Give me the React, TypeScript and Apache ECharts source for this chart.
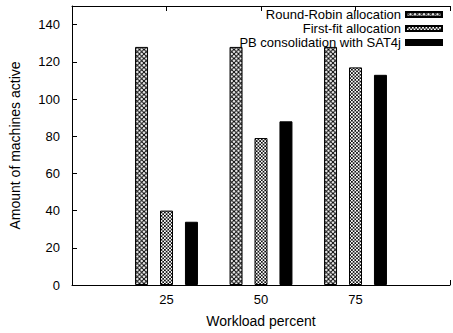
import React, { useEffect, useRef } from "react";
import * as echarts from "echarts";

const workloads = [25, 50, 75];
const xRange = [0, 100];
const roundRobin = [128, 128, 128];
const firstFit = [40, 79, 117];
const pbSat4j = [34, 88, 113];
const seriesNames = ["Round-Robin allocation", "First-fit allocation", "PB consolidation with SAT4j"];
const yTicksMax = 150;

const FONT = "'Liberation Sans', Arial, Helvetica, sans-serif";

function svgUrl(svg: string) {
  return "data:image/svg+xml;charset=utf-8," + encodeURIComponent(svg);
}

const rrSize = 4.5;
const rrPattern = {
  image: svgUrl(
    `<svg xmlns='http://www.w3.org/2000/svg' width='${rrSize}' height='${rrSize}' viewBox='0 0 ${rrSize} ${rrSize}'><rect width='${rrSize}' height='${rrSize}' fill='white'/><path d='M0 0L${rrSize} ${rrSize}M${rrSize} 0L0 ${rrSize}' stroke='black' stroke-width='1'/></svg>`
  ),
  imageWidth: rrSize,
  imageHeight: rrSize,
  repeat: "repeat",
};

const ffSize = 3.4;
const ffPattern = {
  image: svgUrl(
    `<svg xmlns='http://www.w3.org/2000/svg' width='${ffSize}' height='${ffSize}' viewBox='0 0 ${ffSize} ${ffSize}'><rect width='${ffSize}' height='${ffSize}' fill='white'/><path d='M0 0L${ffSize} ${ffSize}M${ffSize} 0L0 ${ffSize}' stroke='black' stroke-width='0.8'/><circle cx='${ffSize / 2}' cy='${ffSize / 2}' r='0.5' fill='black'/></svg>`
  ),
  imageWidth: ffSize,
  imageHeight: ffSize,
  repeat: "repeat",
};

export default function App() {
  const ref = useRef<HTMLDivElement>(null);
  useEffect(() => {
    document.body.style.margin = "0";
    if (!ref.current) return;
    const chart = echarts.init(ref.current, null, { renderer: "svg" });
    const cats = [String(xRange[0]), ...workloads.map(String), String(xRange[1])];
    const mk = (vals: number[]) => [null, ...vals, null];
    const fills: any[] = [rrPattern, ffPattern, "#000"];
    const datasets = [roundRobin, firstFit, pbSat4j];
    const hideEnds = (v: string) => (v === cats[0] || v === cats[cats.length - 1] ? "" : v);
    chart.setOption({
      animation: false,
      textStyle: { fontFamily: FONT, color: "#000" },
      grid: { left: 68, top: 6, width: 395, height: 285, containLabel: false },
      legend: {
        orient: "vertical",
        align: "right",
        right: 10,
        top: 8,
        itemWidth: 36,
        itemHeight: 5,
        itemGap: 1,
        icon: "rect",
        textStyle: { fontFamily: FONT, fontSize: 13, color: "#000", padding: 0 },
        padding: 0,
        data: seriesNames,
      },
      xAxis: [
        {
          type: "category",
          data: cats,
          boundaryGap: false,
          name: "Workload percent",
          nameLocation: "middle",
          nameGap: 29,
          nameTextStyle: { fontFamily: FONT, fontSize: 14, color: "#000" },
          axisLine: { lineStyle: { color: "#000", width: 1 } },
          axisTick: { inside: true, length: 5, lineStyle: { color: "#000" } },
          axisLabel: {
            fontFamily: FONT,
            fontSize: 13,
            color: "#000",
            margin: 8,
            interval: 0,
            formatter: hideEnds,
          },
          splitLine: { show: false },
        },
        {
          type: "category",
          data: cats,
          boundaryGap: false,
          position: "top",
          axisLine: { show: true, lineStyle: { color: "#000", width: 1 } },
          axisTick: { inside: true, length: 5, interval: 0, lineStyle: { color: "#000" } },
          axisLabel: { show: false },
          splitLine: { show: false },
        },
      ],
      yAxis: {
        type: "value",
        min: 0,
        max: yTicksMax,
        interval: 20,
        name: "Amount of machines active",
        nameLocation: "middle",
        nameGap: 50,
        nameTextStyle: { fontFamily: FONT, fontSize: 14, color: "#000" },
        axisLine: { show: true, lineStyle: { color: "#000", width: 1 } },
        axisTick: { show: true, inside: true, length: 5, lineStyle: { color: "#000" } },
        axisLabel: {
          fontFamily: FONT,
          fontSize: 13,
          color: "#000",
          margin: 12,
          formatter: (v: number) => (v === yTicksMax ? "" : String(v)),
        },
        splitLine: { show: false },
      },
      series: datasets.map((vals, i) => ({
        name: seriesNames[i],
        type: "bar",
        xAxisIndex: 0,
        data: mk(vals),
        barWidth: 13,
        barGap: "92%",
        itemStyle: { color: fills[i], borderColor: "#000", borderWidth: 1 },
      })),
    });
    return () => chart.dispose();
  }, []);
  return <div ref={ref} style={{ width: 453, height: 333 }} />;
}
